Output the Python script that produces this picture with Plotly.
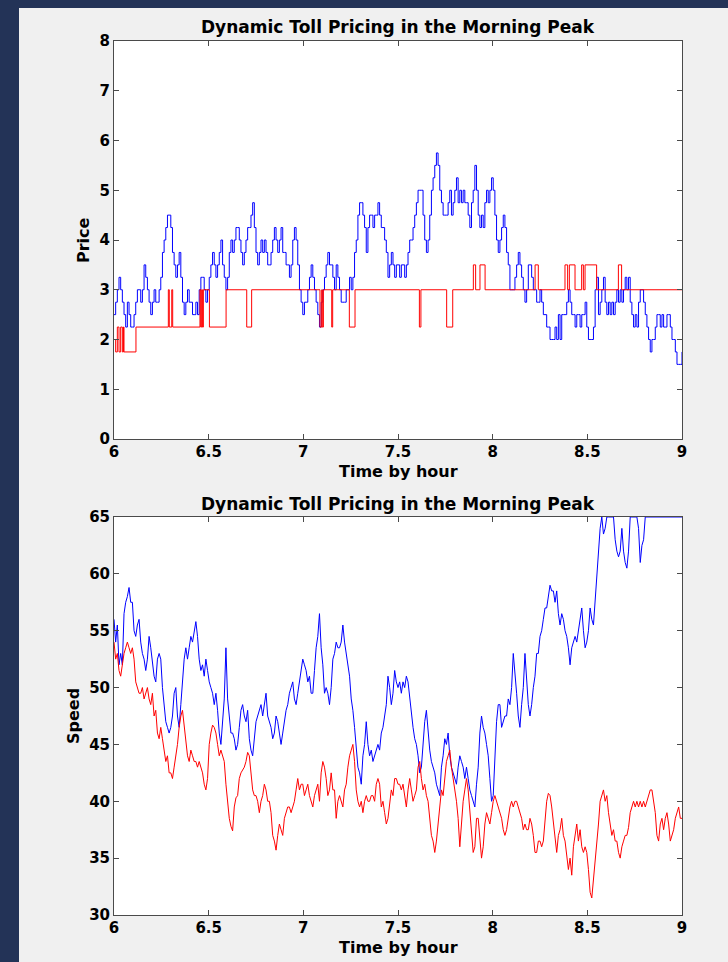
import numpy as np
import plotly.graph_objects as go

# ---------------- data ----------------
# Top panel: dynamic price (blue), sampled evenly from 6:00 to 9:00
price_dynamic = [
    2.5, 2.75, 3.0, 3.25, 3.0, 2.75, 2.5, 2.25, 2.75, 2.5, 2.25, 2.25, 2.5, 2.75, 3.0, 3.0,
    2.75, 3.0, 3.5, 3.25, 3.0, 2.75, 2.5, 2.75, 3.0, 2.75, 2.75, 3.0, 3.25, 3.75, 4.0, 4.25,
    4.5, 4.5, 4.25, 3.75, 3.5, 3.25, 3.5, 3.75, 3.25, 2.75, 2.5, 2.75, 3.0, 2.75, 2.75, 2.5,
    2.5, 2.75, 2.5, 3.0, 3.25, 3.25, 3.0, 2.75, 3.0, 3.25, 3.5, 3.75, 3.5, 3.25, 3.5, 3.75,
    4.0, 3.5, 3.25, 3.0, 3.25, 3.75, 4.0, 3.75, 4.0, 4.25, 4.25, 4.0, 3.75, 3.5, 3.75, 4.0,
    4.25, 4.25, 4.5, 4.75, 4.25, 3.75, 3.5, 3.75, 4.0, 3.75, 4.0, 3.75, 3.5, 3.5, 3.75, 4.0,
    4.25, 4.0, 3.75, 4.0, 4.25, 3.75, 3.75, 3.5, 3.5, 3.25, 3.5, 4.0, 4.25, 4.0, 3.5, 3.0,
    2.75, 2.5, 2.75, 2.75, 3.0, 3.25, 3.5, 3.25, 3.0, 2.75, 2.5, 2.25, 2.75, 3.0, 3.25, 3.5,
    3.75, 3.5, 3.5, 3.25, 3.0, 3.5, 3.25, 3.0, 2.75, 2.75, 2.75, 3.0, 3.0, 3.25, 3.0, 3.25,
    3.75, 4.0, 4.5, 4.75, 4.75, 4.5, 4.25, 3.75, 4.25, 4.5, 4.5, 4.25, 4.5, 4.5, 4.75, 4.5,
    4.25, 4.25, 4.0, 3.75, 3.25, 3.5, 3.75, 3.5, 3.25, 3.5, 3.5, 3.25, 3.5, 3.5, 3.25, 3.5,
    3.75, 4.0, 4.0, 4.25, 4.5, 4.75, 5.0, 5.0, 5.0, 4.5, 4.0, 3.75, 4.0, 4.5, 5.0, 5.25,
    5.5, 5.75, 5.5, 5.0, 4.75, 4.5, 4.5, 4.5, 4.75, 5.0, 4.5, 4.75, 5.0, 5.25, 4.75, 5.0,
    4.75, 5.0, 4.75, 4.75, 4.5, 4.25, 4.75, 5.0, 5.5, 5.0, 4.5, 4.25, 4.5, 4.25, 4.75, 5.0,
    4.75, 5.0, 5.25, 5.0, 4.5, 4.0, 3.75, 4.0, 4.25, 4.5, 4.25, 3.75, 3.5, 3.0, 3.0, 3.0,
    3.25, 3.5, 3.75, 3.5, 3.25, 3.0, 2.75, 3.0, 3.5, 3.5, 3.25, 3.0, 3.0, 2.75, 2.75, 3.0,
    2.75, 2.5, 2.5, 2.25, 2.25, 2.0, 2.0, 2.0, 2.25, 2.0, 2.5, 2.0, 2.5, 2.5, 2.5, 2.75,
    3.0, 2.75, 2.5, 2.5, 2.25, 2.5, 2.5, 2.25, 2.5, 2.5, 2.75, 2.25, 2.0, 2.0, 2.0, 2.25,
    3.0, 3.25, 2.5, 2.75, 3.0, 3.25, 2.75, 2.5, 2.75, 2.5, 2.75, 2.5, 2.75, 3.0, 2.75, 3.0,
    2.75, 3.0, 3.25, 3.0, 3.25, 2.75, 2.5, 2.25, 2.5, 2.25, 2.75, 3.0, 3.0, 2.75, 2.5, 2.25,
    2.0, 1.75, 2.0, 2.0, 2.25, 2.5, 2.5, 2.25, 2.5, 2.25, 2.25, 2.5, 2.5, 2.25, 2.0, 2.0,
    1.75, 1.5, 1.5, 1.5, 1.75,
]

# Top panel: posted toll (red), given as change points (hour, level)
toll_hours = [
    6.000, 6.0088, 6.0176, 6.0264, 6.0352, 6.044, 6.050, 6.0528, 6.116, 6.287,
    6.292, 6.305, 6.310, 6.454, 6.458, 6.463, 6.467, 6.472, 6.504, 6.592,
    6.701, 6.727, 7.088, 7.097, 7.100, 7.106, 7.150, 7.155, 7.243, 7.273,
    7.613, 7.621, 7.757, 7.789, 7.898, 7.910, 7.933, 7.960, 8.224, 8.241,
    8.382, 8.396, 8.405, 8.435, 8.470, 8.479, 8.488, 8.549, 8.664, 8.681, 9.000,
]
toll_levels = [
    2.0, 1.75, 2.25, 1.75, 2.25, 1.75, 2.25, 1.75, 2.25, 3.0,
    2.25, 3.0, 2.25, 3.0, 2.25, 3.0, 2.25, 3.0, 2.25, 3.0,
    2.25, 3.0, 2.25, 3.0, 2.25, 3.0, 2.25, 3.0, 2.25, 3.0,
    2.25, 3.0, 2.25, 3.0, 3.5, 3.0, 3.5, 3.0, 3.5, 3.0,
    3.5, 3.0, 3.5, 3.0, 3.5, 3.0, 3.5, 3.0, 3.5, 3.0, 3.0,
]

# Bottom panel: speed (blue), sampled evenly from 6:00 to 9:00 (capped at 65)
speed_blue = [
    56, 54, 55.5, 52, 53, 52, 56.5, 57.5, 58, 58.8, 57.5, 57.5, 55, 54.5, 55.5, 56,
    54, 53, 52.5, 51.5, 52.5, 54.5, 53.5, 52, 51, 50.5, 52.5, 53, 52.5, 50, 48.5, 47,
    46.5, 46, 46.5, 47.5, 49.5, 50, 47.5, 46.5, 48.5, 51, 52.5, 53.5, 52.5, 53.5, 54.5, 54,
    55, 55.8, 54.5, 52.5, 51.5, 52, 51, 52.5, 51.5, 50.5, 50, 49.5, 48.5, 49.5, 48, 46,
    45, 47, 49, 53.5, 49, 47.5, 46, 46, 45.5, 44.5, 45, 46.5, 48, 48.5, 47.5, 47,
    48, 45.5, 44.5, 44, 45.5, 47, 47.5, 48, 48.5, 47.5, 48.5, 49.5, 47.5, 47, 46.5, 45.5,
    46, 47.5, 47, 46, 45, 46, 47, 48, 48.5, 49.5, 50, 50.5, 49, 48.5, 49.5, 50.5,
    51.5, 52.5, 52, 51.5, 50.5, 51, 49.5, 49.5, 51.5, 53.5, 54.5, 56.5, 53.5, 52, 49.5, 50,
    49.5, 48.5, 50, 52.5, 53, 54, 53.5, 53.5, 54, 55.5, 54, 53, 52, 51, 49, 48,
    46.5, 45, 43, 42.5, 41.5, 44, 45, 47, 45, 44, 44.5, 43.5, 44, 44.5, 45, 44.5,
    46, 46.5, 47.5, 48.5, 51, 50, 48.5, 49.5, 51.5, 50.5, 50, 50.5, 49.5, 50.5, 50, 51,
    50.5, 49, 47.5, 46.5, 45.5, 45, 44, 42.5, 43, 45, 47, 48, 46, 44.5, 43.5, 43,
    42.5, 41.5, 41, 40.5, 43, 44, 45.5, 45, 46, 44, 43, 42.5, 42, 41.5, 43, 44,
    43.5, 43, 42, 43, 42, 41, 40.5, 40, 39.5, 41.5, 43, 46, 47.5, 46.5, 46, 45,
    44, 42, 40, 40.5, 44, 47, 48.5, 48.5, 46.5, 47, 47.5, 47.5, 49, 48.5, 50, 53,
    51.5, 49.5, 47.5, 46.5, 48.5, 50, 53, 51, 48.5, 47.5, 48.5, 50, 51, 53, 53, 54.5,
    55, 56, 57, 57, 58, 59, 58.5, 58.5, 57.5, 58.5, 56.5, 55.5, 56.5, 56, 55, 54.5,
    53.5, 52, 53.5, 54, 54.5, 54, 55, 56, 57, 55, 53.5, 54, 55, 57, 56, 55.5,
    57.5, 60, 62, 64, 65, 63.5, 64, 65, 65, 65, 65, 65, 63, 62, 61.5, 62,
    64, 62, 61, 60.5, 62, 65, 65, 65, 65, 65, 64, 61, 62.5, 63, 65, 65,
    65, 65, 65, 65, 65, 65, 65, 65, 65, 65, 65, 65, 65, 65, 65, 65,
    65, 65, 65, 65, 65,
]

# Bottom panel: speed (red), sampled evenly from 6:00 to 9:00
speed_red = [
    54, 52.5, 53, 51.5, 51, 52, 53, 53.5, 54, 53.5, 53, 53.5, 52.5, 50.5, 50, 49.5,
    49.5, 50, 49, 49.5, 50, 49, 48.5, 49.5, 47.5, 48, 46, 45.5, 46.5, 45.5, 44.5, 43.5,
    44, 42.5, 42.5, 42, 43, 44, 45, 46.5, 47.5, 48, 46.5, 45, 44, 43.5, 44.5, 44,
    43.5, 43.5, 43, 43.5, 43, 42.5, 41.5, 41, 42, 45, 46, 46.7, 46.5, 46, 45, 44,
    44.5, 44, 43.5, 41.5, 40, 38.5, 37.8, 37.4, 39.5, 40.3, 40.5, 42, 42.5, 42.7, 43, 43.5,
    44.3, 44, 42.5, 41, 40.5, 40.5, 40, 39, 40, 40.5, 41.5, 41, 40, 40, 39, 37,
    36.5, 35.7, 37, 38, 37.5, 37, 38.5, 39, 39.5, 39.5, 39, 39.5, 40, 41, 42, 41,
    41.5, 41.5, 40.5, 41, 41.5, 40.5, 40, 39.5, 40.5, 41, 41.5, 40, 42.5, 43.5, 43, 42,
    40.5, 41, 42.5, 41, 41, 38.5, 40, 40.5, 40, 39.5, 41, 41.5, 43, 44, 44.5, 45,
    43.5, 41, 40, 39.5, 40, 39, 40, 40.5, 40, 40, 40.5, 40.5, 40, 41.5, 42, 41.5,
    39.5, 40, 39, 38, 38.5, 40, 41, 40.5, 42, 42, 41.5, 41.5, 41, 41.5, 40.5, 39.5,
    41, 42, 41, 40, 40.5, 41, 43, 43.5, 42, 41, 41.5, 40.5, 40, 38.5, 37, 36.5,
    35.5, 36.5, 38, 39.5, 41, 40.5, 42, 43.5, 44, 44.5, 43, 42, 41, 40, 38.5, 36,
    38, 40, 41, 42, 41, 39, 37.5, 35.5, 36, 38.5, 38.5, 37, 35, 36, 38, 39,
    38.5, 38, 39, 40, 40.5, 40, 39.5, 39, 38.5, 37.5, 37, 37.5, 38.5, 39.5, 40, 39.5,
    40, 40, 39.5, 39, 38.5, 37.5, 38, 37.5, 37.5, 38.5, 38, 37, 35.5, 35.5, 36.5, 36.5,
    36, 36.5, 38.5, 40, 40.7, 40.5, 39.5, 38, 36.5, 35.5, 37, 37.5, 38.5, 37, 36.5, 35,
    34, 35, 33.5, 36, 37, 38, 36.5, 37.5, 36, 35.5, 36, 35.5, 34, 32, 31.5, 33,
    35, 36, 38, 40, 40.5, 41, 40, 40.5, 39, 38, 37, 37.5, 36.5, 36.5, 35.5, 35,
    36, 36.5, 37, 37, 37.7, 39, 39.5, 40, 39.5, 40, 39.5, 40, 39.5, 40, 39.5, 40,
    40.5, 41, 41, 40, 39, 37, 36.5, 38, 38.5, 37.5, 38.5, 39, 38, 36.5, 37, 37.5,
    38.5, 39, 39.5, 38.5, 38.5,
]

x_ticks = [6, 6.5, 7, 7.5, 8, 8.5, 9]
price_ticks = [0, 1, 2, 3, 4, 5, 6, 7, 8]
speed_ticks = [30, 35, 40, 45, 50, 55, 60, 65]
chart_title = "Dynamic Toll Pricing in the Morning Peak"

# ---------------- figure ----------------
W, H = 728, 962
BLUE, RED = "#0000ff", "#ff0000"
AXC = "#4a4a4a"
NAVY = "#233357"
FONT = "DejaVu Sans"

hours_price = np.linspace(6, 9, len(price_dynamic))
hours_blue = np.linspace(6, 9, len(speed_blue))
hours_red = np.linspace(6, 9, len(speed_red))

fig = go.Figure()
fig.add_trace(go.Scatter(x=hours_price, y=price_dynamic, mode="lines", line=dict(color=BLUE, width=1, shape="hv"),
                         xaxis="x", yaxis="y", showlegend=False))
fig.add_trace(go.Scatter(x=toll_hours, y=toll_levels, mode="lines", line=dict(color=RED, width=1, shape="hv"),
                         xaxis="x", yaxis="y", showlegend=False))
fig.add_trace(go.Scatter(x=hours_blue, y=speed_blue, mode="lines", line=dict(color=BLUE, width=1),
                         xaxis="x2", yaxis="y2", showlegend=False))
fig.add_trace(go.Scatter(x=hours_red, y=speed_red, mode="lines", line=dict(color=RED, width=1),
                         xaxis="x2", yaxis="y2", showlegend=False))

x0, x1 = 114 / W, 682 / W
top_dom = [1 - 439 / H, 1 - 41 / H]
bot_dom = [1 - 915 / H, 1 - 517 / H]

tickfont = dict(family=FONT, size=15, color="black", weight="bold")
common = dict(showline=True, linecolor=AXC, linewidth=1, mirror="ticks", ticks="inside",
              ticklen=5, tickcolor=AXC, tickwidth=1, showgrid=False, zeroline=False,
              tickfont=tickfont, automargin=False)
xcommon = dict(common, ticklabelstandoff=-1)

fig.update_layout(
    width=W, height=H,
    margin=dict(l=0, r=0, t=0, b=0, pad=0, autoexpand=False),
    paper_bgcolor="#f0f0f0",
    plot_bgcolor="white",
    xaxis=dict(domain=[x0, x1], range=[6, 9], tickvals=x_ticks, ticktext=[f"{v:g}" for v in x_ticks],
               anchor="y", **xcommon),
    yaxis=dict(domain=top_dom, range=[0, 8], tickvals=price_ticks, anchor="x", **common),
    xaxis2=dict(domain=[x0, x1], range=[6, 9], tickvals=x_ticks, ticktext=[f"{v:g}" for v in x_ticks],
                anchor="y2", **xcommon),
    yaxis2=dict(domain=bot_dom, range=[30, 65], tickvals=speed_ticks, anchor="x2", **common),
    shapes=[
        dict(type="rect", xref="paper", yref="paper", x0=0, x1=19 / W, y0=0, y1=1,
             fillcolor=NAVY, line=dict(width=0), layer="above"),
        dict(type="rect", xref="paper", yref="paper", x0=0, x1=1, y0=1 - 8 / H, y1=1,
             fillcolor=NAVY, line=dict(width=0), layer="above"),
    ],
)

ann = []
ttl = dict(family=FONT, size=17, color="black", weight="bold")
lbl = dict(family=FONT, size=16, color="black", weight="bold")
xc = (x0 + x1) / 2
ann.append(dict(text=chart_title, x=xc, y=1 - 27 / H, xref="paper", yref="paper", showarrow=False,
                font=ttl, xanchor="center", yanchor="middle", borderpad=0))
ann.append(dict(text=chart_title, x=xc, y=1 - 504 / H, xref="paper", yref="paper", showarrow=False,
                font=ttl, xanchor="center", yanchor="middle", borderpad=0))
ann.append(dict(text="Time by hour", x=xc, y=1 - 471 / H, xref="paper", yref="paper", showarrow=False,
                font=lbl, xanchor="center", yanchor="middle", borderpad=0))
ann.append(dict(text="Time by hour", x=xc, y=1 - 947 / H, xref="paper", yref="paper", showarrow=False,
                font=lbl, xanchor="center", yanchor="middle", borderpad=0))
ann.append(dict(text="Price", x=83 / W, y=1 - 240 / H, xref="paper", yref="paper", showarrow=False,
                font=lbl, textangle=-90, xanchor="center", yanchor="middle", borderpad=0))
ann.append(dict(text="Speed", x=73 / W, y=1 - 716 / H, xref="paper", yref="paper", showarrow=False,
                font=lbl, textangle=-90, xanchor="center", yanchor="middle", borderpad=0))
fig.update_layout(annotations=ann)

page_fix = ("document.body.style.margin='0';document.body.style.padding='0';"
            "document.body.style.overflow='hidden';document.body.style.background='%s';" % NAVY)
fig.write_html("out.html", post_script=page_fix, config={"displayModeBar": False})
